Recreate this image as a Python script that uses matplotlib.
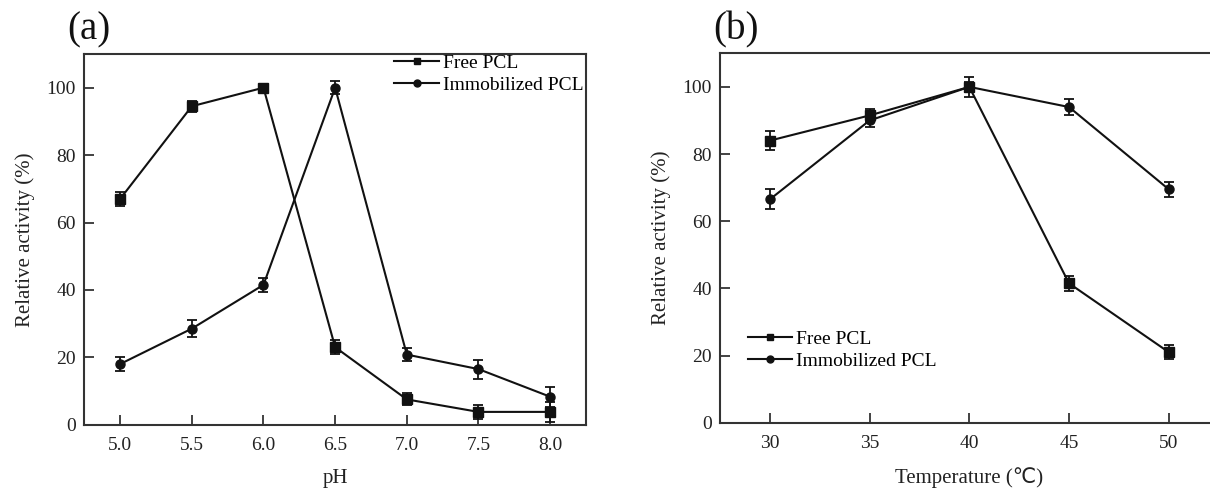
import matplotlib
matplotlib.use("Agg")
import matplotlib.pyplot as plt
from matplotlib.lines import Line2D

# Panel (a): pH
ph = [5.0, 5.5, 6.0, 6.5, 7.0, 7.5, 8.0]
free_ph = [67, 94.5, 100, 23, 7.5, 3.8, 3.8]
free_ph_err = [2.0, 1.6, 0.8, 2.0, 1.8, 2.0, 3.0]
imm_ph = [18, 28.5, 41.5, 100, 20.8, 16.5, 8.3]
imm_ph_err = [2.0, 2.5, 2.0, 2.0, 2.0, 2.8, 3.0]
ph_ticks = [5.0, 5.5, 6.0, 6.5, 7.0, 7.5, 8.0]

# Panel (b): temperature
temp = [30, 35, 40, 45, 50]
free_t = [84, 91.5, 100, 41.5, 21]
free_t_err = [2.8, 2.0, 1.5, 2.2, 2.0]
imm_t = [66.5, 90, 100, 94, 69.5]
imm_t_err = [3.0, 2.0, 3.0, 2.3, 2.3]
temp_ticks = [30, 35, 40, 45, 50]

y_ticks = [0, 20, 40, 60, 80, 100]
labels = ["Free PCL", "Immobilized PCL"]

SERIF = ["Liberation Serif", "DejaVu Serif"]
plt.rcParams["font.family"] = SERIF

fig = plt.figure(figsize=(12.1, 4.92), dpi=100)
W, H = 1210, 492

def px_axes(l, t, r, b):
    return fig.add_axes([l / W, 1 - b / H, (r - l) / W, (b - t) / H])

ax1 = px_axes(84.3, 54, 586, 424.7)
ax2 = px_axes(720, 53.3, 1218.6, 422.7)

col = "#111111"
kw = dict(color=col, lw=1.5, capsize=3.5, elinewidth=1.3, capthick=1.3, markersize=6.5)

def style(ax):
    for s in ax.spines.values():
        s.set_linewidth(1.5)
        s.set_color("#333333")
    ax.tick_params(axis="both", direction="in", length=7, width=1.2,
                   labelsize=14, colors="#222222", top=False, right=False)
    ax.tick_params(axis="x", pad=9)
    ax.tick_params(axis="y", pad=6)
    ax.set_ylim(0, 110)
    ax.set_yticks(y_ticks)
    ax.set_ylabel("Relative activity (%)", fontsize=15, color="#222222", labelpad=8)

def handles():
    return [Line2D([], [], color=col, lw=1.5, marker="s", markersize=5),
            Line2D([], [], color=col, lw=1.5, marker="o", markersize=5)]

leg_kw = dict(frameon=False, fontsize=14, handlelength=2.3, handletextpad=0.2,
              labelspacing=0.2, borderpad=0.2)

ax1.errorbar(ph, free_ph, yerr=free_ph_err, marker="s", **kw)
ax1.errorbar(ph, imm_ph, yerr=imm_ph_err, marker="o", **kw)
ax1.set_xlim(4.75, 8.25)
ax1.set_xticks(ph_ticks)
ax1.set_xticklabels([f"{v:.1f}" for v in ph_ticks])
style(ax1)
ax1.set_xlabel("pH", fontsize=15, color="#222222", labelpad=11)
ax1.legend(handles(), labels, loc="upper right", bbox_to_anchor=(1.022, 1.035), **leg_kw)

ax2.errorbar(temp, free_t, yerr=free_t_err, marker="s", **kw)
ax2.errorbar(temp, imm_t, yerr=imm_t_err, marker="o", **kw)
ax2.set_xlim(27.5, 52.5)
ax2.set_xticks(temp_ticks)
style(ax2)
ax2.set_xlabel("Temperature (\u2103)", fontsize=15, color="#222222", labelpad=11,
               family=["Liberation Serif", "DejaVu Sans"])
ax2.legend(handles(), labels, loc="lower left", bbox_to_anchor=(0.028, 0.107), **leg_kw)

fig.text(67 / W, 1 - 30 / H, "(a)", fontsize=28, va="center", ha="left", color="#111111")
fig.text(713 / W, 1 - 30 / H, "(b)", fontsize=28, va="center", ha="left", color="#111111")

fig.savefig("out.png", dpi=100)
